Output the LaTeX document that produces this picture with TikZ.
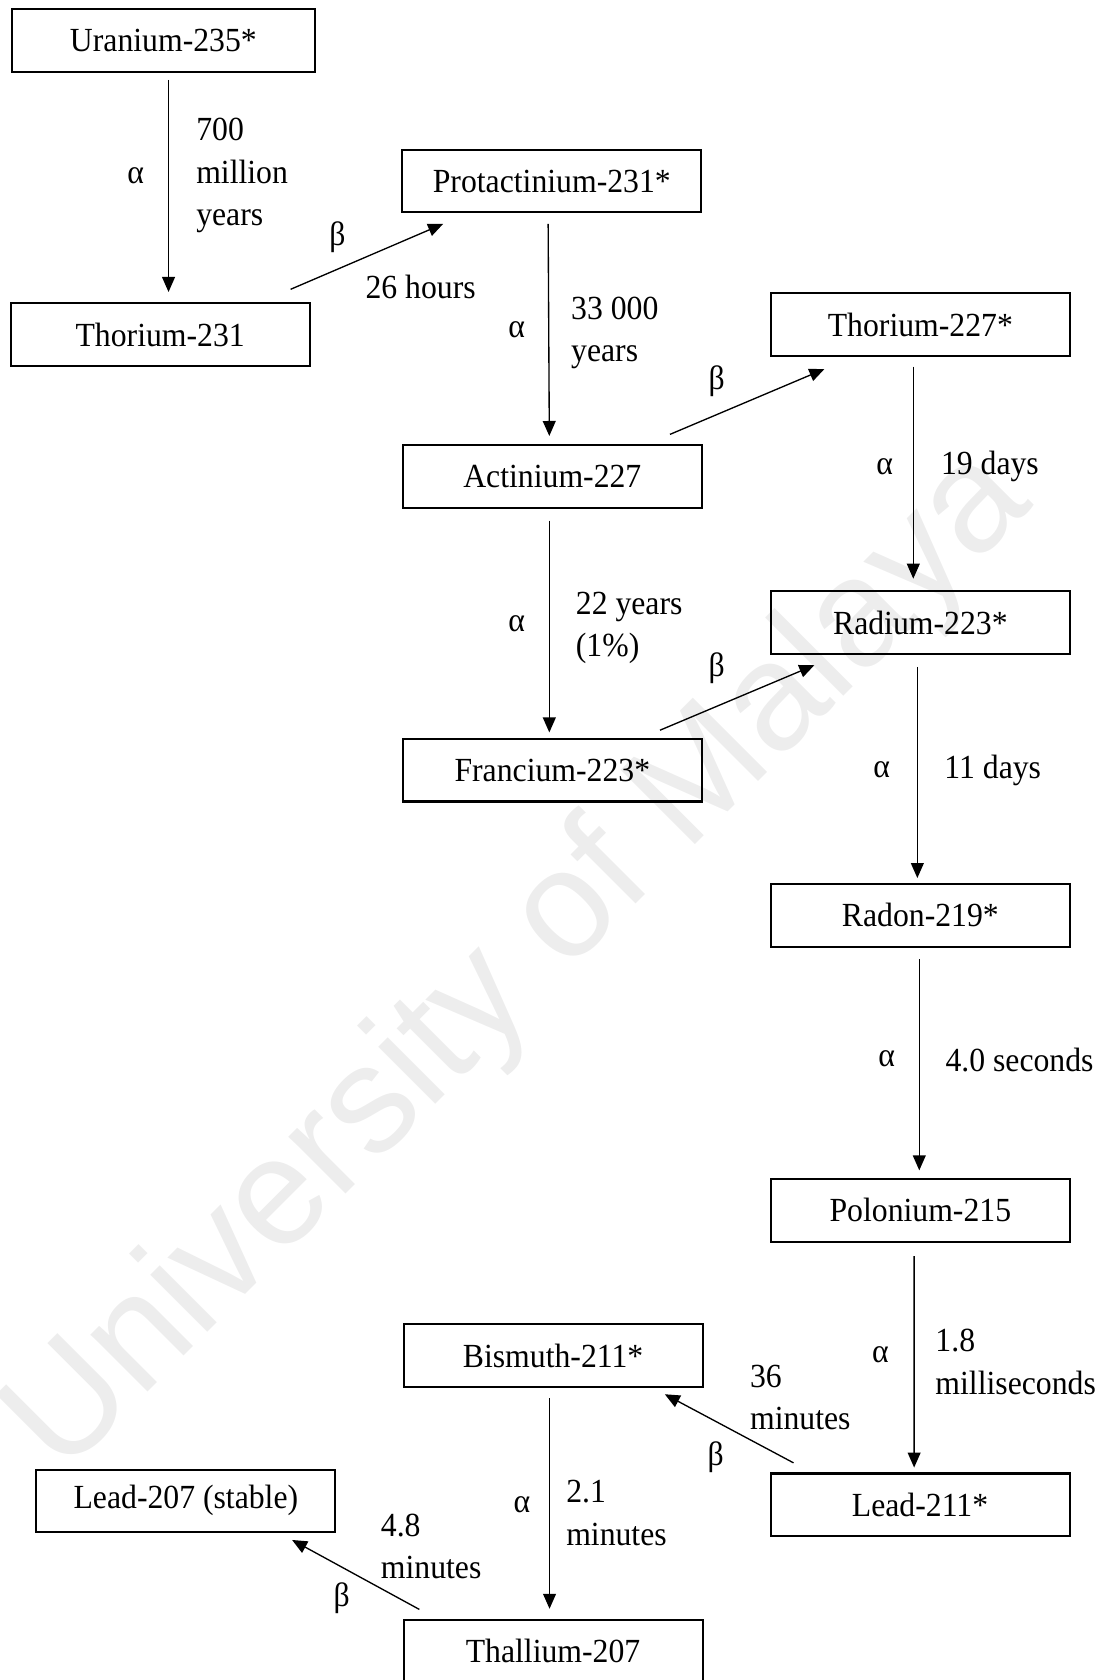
\documentclass[tikz,border=0pt]{standalone}
\usepackage{fontspec}
\setmainfont[FakeStretch=0.94]{Liberation Serif}
\newfontfamily\wmfont{Liberation Sans}
\usetikzlibrary{arrows.meta,calc}
\begin{document}
\begin{tikzpicture}[x=0.4pt,y=-0.4pt,
  box/.style={draw, line width=0.75pt, minimum width=111.6pt, minimum height=23.4pt, inner sep=0pt, font=\fontsize{12.6}{15.8}\selectfont},
  arr/.style={line width=0.5pt, -{Triangle[length=5.6pt,width=4.8pt]}},
  lbl/.style={inner sep=0pt, font=\fontsize{12.6}{15.8}\selectfont},
  tlbl/.style={lbl, anchor=west, align=left},
  watermark/.style={inner sep=0pt, anchor=base, rotate=45, text=black!7, font=\wmfont\fontsize{57}{62}\selectfont}]
\useasboundingbox (0,0) rectangle (1035,1568);
% watermark
\node[watermark] (wm) at (512,925) {University of Malaya};
% boxes
\node[box, minimum width=113.2pt] (u235) at (152.5,37.7) {Uranium-235*};
\node[box] (th231) at (149.5,312.5) {Thorium-231};
\node[box] (pa) at (515,169) {Protactinium-231*};
\node[box] (th227) at (859,303) {Thorium-227*};
\node[box] (ac) at (515.5,444.9) {Actinium-227};
\node[box] (ra) at (859,581) {Radium-223*};
\node[box] (fr) at (515.5,718.8) {Francium-223*};
\node[box] (rn) at (859,854.2) {Radon-219*};
\node[box] (po) at (859,1129.5) {Polonium-215};
\node[box] (bi) at (516.2,1265.2) {Bismuth-211*};
\node[box] (pb211) at (858.7,1404.5) {Lead-211*};
\node[box] (pb207) at (173.5,1400.8) {Lead-207 (stable)};
\node[box] (tl) at (516.2,1541) {Thallium-207};
% connectors
\draw[arr] ($(u235.south)+(4.8,6.7)$) -- ($(th231.north)+(7.8,-9.8)$);
\draw[arr] ($(th231.north east)+(-18.7,-12.3)$) -- ($(pa.south west)+(39,9.8)$);
\draw[arr] ($(pa.south)+(-3.4,9.8)$) -- ($(ac.north)+(-2.8,-7.8)$);
\draw[arr] ($(ac.north)+(109.8,-9.3)$) -- ($(th227.south)+(-89.6,11.3)$);
\draw[arr] ($(th227.south)+(-6.6,9.1)$) -- ($(ra.north)+(-6.6,-10.7)$);
\draw[arr] ($(ac.south)+(-2.8,10.9)$) -- ($(fr.north)+(-2.8,-5)$);
\draw[arr] ($(fr.north)+(100.5,-7.1)$) -- ($(ra.south)+(-99,9.7)$);
\draw[arr] ($(ra.south)+(-2.8,11.3)$) -- ($(rn.north)+(-2.8,-4.5)$);
\draw[arr] ($(rn.south)+(-1,10.9)$) -- ($(po.north)+(-1,-7)$);
\draw[arr] ($(po.south)+(-5.8,12.7)$) -- ($(pb211.north)+(-5.5,-4.6)$);
\draw[arr] ($(pb211.north)+(-118.1,-9)$) -- ($(bi.south)+(104.3,5.9)$);
\draw[arr] ($(bi.south)+(-3.3,9.7)$) -- ($(tl.north)+(-3.3,-9.3)$);
\draw[arr] ($(tl.north)+(-124.8,-8.7)$) -- ($(pb207.south)+(99.1,6.3)$);
% alpha labels
\node[lbl] (a1) at (126.7,164) {α};
\node[lbl] (a2) at (482.2,307.5) {α};
\node[lbl] (a3) at (825.7,435.6) {α};
\node[lbl] (a4) at (482.2,581.8) {α};
\node[lbl] (a5) at (823,718.7) {α};
\node[lbl] (a6) at (827.5,988) {α};
\node[lbl] (a7) at (821.8,1264.7) {α};
\node[lbl] (a8) at (487.2,1404.7) {α};
% beta labels
\node[lbl] (b1) at (315,221.5) {β};
\node[lbl] (b2) at (668.9,356.2) {β};
\node[lbl] (b3) at (668.9,623.8) {β};
\node[lbl] (b4) at (668,1359.6) {β};
\node[lbl] (b5) at (318.8,1491.8) {β};
% time labels
\node[tlbl] (t1) at (182.7,164) {700\\million\\years};
\node[tlbl] (t2) at (340.7,268.2) {26 hours};
\node[tlbl] (t3) at (532.6,310.5) {33 000\\years};
\node[tlbl] (t4) at (877.8,435.6) {19 days};
\node[tlbl] (t5) at (537,586) {22 years\\(1\%)};
\node[tlbl] (t6) at (881,718.7) {11 days};
\node[tlbl] (t7) at (882,989.3) {4.0 seconds};
\node[tlbl] (t8) at (872.6,1271) {1.8\\milliseconds};
\node[tlbl] (t9) at (699.6,1304) {36\\minutes};
\node[tlbl] (t10) at (528,1412) {2.1\\minutes};
\node[tlbl] (t11) at (355,1443.5) {4.8\\minutes};
\end{tikzpicture}
\end{document}
